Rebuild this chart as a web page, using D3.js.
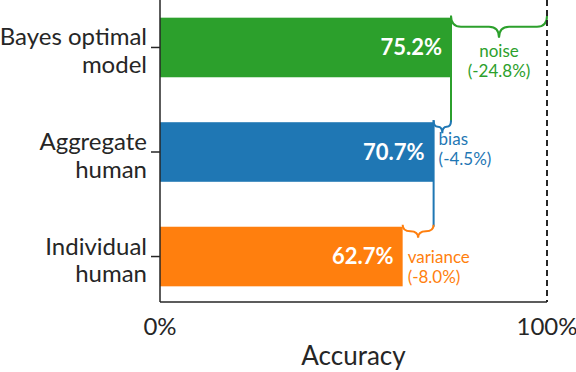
<!DOCTYPE html>
<html>
<head>
<meta charset="utf-8">
<script src="https://cdn.jsdelivr.net/npm/d3@7"></script>
<style>
  body { margin: 0; background: #fff; }
  text { font-family: Lato, "Open Sans", sans-serif; }
</style>
</head>
<body>
<div id="chart"></div>
<script>
// data
const categories = ["Bayes optimal\nmodel", "Aggregate\nhuman", "Individual\nhuman"];
const accuracy = [75.2, 70.7, 62.7];
const barColors = ["#2ca02c", "#1f77b4", "#ff7f0e"];
const gapNames = ["noise", "bias", "variance"];
const gapValues = [-24.8, -4.5, -8.0];
const xTicks = [0, 100];

const width = 576, height = 372;
const margin = { left: 160, right: 29, top: 2, bottom: 70 };
const ink = "#262626";

const svg = d3.select("#chart").append("svg")
  .attr("width", width)
  .attr("height", height);

const x = d3.scaleLinear().domain([0, 100]).range([margin.left, width - margin.right]);
const y = d3.scaleBand().domain(categories)
  .range([margin.top, height - margin.bottom])
  .paddingInner(0.43).paddingOuter(0.15);

// bars
svg.selectAll(".bar")
  .data(categories)
  .enter()
  .append("rect")
  .attr("class", "bar")
  .attr("x", x(0))
  .attr("y", d => y(d))
  .attr("width", (d, i) => x(accuracy[i]) - x(0))
  .attr("height", y.bandwidth())
  .style("fill", (d, i) => barColors[i]);

// value labels inside bars
svg.selectAll(".val")
  .data(categories)
  .enter()
  .append("text")
  .attr("class", "val")
  .attr("x", (d, i) => x(accuracy[i]) - 9)
  .attr("y", d => y(d) + y.bandwidth() / 2)
  .attr("dy", "0.36em")
  .attr("text-anchor", "end")
  .style("fill", "#fff")
  .style("font-weight", "bold")
  .style("font-size", "22px")
  .text((d, i) => accuracy[i].toFixed(1) + "%");

// curly brace between xa and xb, opening upward at y0
function brace(xa, xb, y0, h) {
  const xm = (xa + xb) / 2;
  const r = Math.min(10, (xb - xa) / 4);
  const yh = y0 + h * 0.5;
  return `M${xa},${y0} Q${xa},${yh} ${xa + r},${yh} L${xm - r},${yh} Q${xm},${yh} ${xm},${y0 + h}`
    + ` Q${xm},${yh} ${xm + r},${yh} L${xb - r},${yh} Q${xb},${yh} ${xb},${y0}`;
}

// gap targets: noise goes to 100%, others to the next bar up
const targets = accuracy.map((v, i) => i === 0 ? 100 : accuracy[i - 1]);

// connector lines from bar end down to the next bar
accuracy.forEach((v, i) => {
  if (i < accuracy.length - 1) {
    svg.append("line")
      .attr("x1", x(v)).attr("x2", x(v))
      .attr("y1", y(categories[i]) - 2)
      .attr("y2", y(categories[i + 1]))
      .style("stroke", barColors[i])
      .style("stroke-width", 2);
  }
});

accuracy.forEach((v, i) => {
  const xa = x(v), xb = x(targets[i]);
  const top = y(categories[i]);
  const h = i === 0 ? 22 : 13;
  svg.append("path")
    .attr("d", brace(xa, xb, top - 2, h))
    .style("fill", "none")
    .style("stroke", barColors[i])
    .style("stroke-width", 2);

  const t = svg.append("text")
    .style("fill", barColors[i])
    .style("font-size", "17px");
  if (i === 0) {
    t.attr("text-anchor", "middle").attr("x", (xa + xb) / 2);
  } else {
    t.attr("text-anchor", "start").attr("x", xa + 5);
  }
  const ty = top + (i === 0 ? 39 : (i === 1 ? 23 : 36));
  t.append("tspan").attr("x", t.attr("x")).attr("y", ty).text(gapNames[i]);
  t.append("tspan").attr("x", t.attr("x")).attr("y", ty + 20)
    .text("(" + gapValues[i].toFixed(1) + "%)");
});

// 100% dashed line
svg.append("line")
  .attr("x1", x(100)).attr("x2", x(100))
  .attr("y1", 0).attr("y2", height - margin.bottom)
  .style("stroke", ink)
  .style("stroke-width", 2)
  .style("stroke-dasharray", "6,4");

// axes
const yAxis = svg.append("g")
  .attr("transform", `translate(${margin.left},0)`)
  .call(d3.axisLeft(y).tickSize(9).tickFormat(""));
yAxis.select(".domain").remove();
yAxis.selectAll("line").style("stroke", ink).style("stroke-width", 1.5);

svg.append("line")
  .attr("x1", x(0)).attr("x2", x(0))
  .attr("y1", 0).attr("y2", height - margin.bottom)
  .style("stroke", ink).style("stroke-width", 1.5);
svg.append("line")
  .attr("x1", x(0)).attr("x2", x(100))
  .attr("y1", height - margin.bottom).attr("y2", height - margin.bottom)
  .style("stroke", ink).style("stroke-width", 1.5);

// y labels
categories.forEach(c => {
  const lines = c.split("\n");
  const t = svg.append("text")
    .attr("text-anchor", "end")
    .style("font-size", "24px")
    .style("fill", ink);
  lines.forEach((ln, k) => {
    t.append("tspan")
      .attr("x", margin.left - 13)
      .attr("y", y(c) + y.bandwidth() / 2 - 2 + k * 27.5)
      .text(ln);
  });
});

// x tick labels
svg.selectAll(".xt")
  .data(xTicks)
  .enter()
  .append("text")
  .attr("class", "xt")
  .attr("x", d => x(d))
  .attr("y", height - margin.bottom + 33)
  .attr("text-anchor", "middle")
  .style("font-size", "24px")
  .style("fill", ink)
  .text(d => d + "%");

svg.append("text")
  .attr("x", (x(0) + x(100)) / 2)
  .attr("y", height - 7)
  .attr("text-anchor", "middle")
  .style("font-size", "26px")
  .style("fill", ink)
  .text("Accuracy");
</script>
</body>
</html>
